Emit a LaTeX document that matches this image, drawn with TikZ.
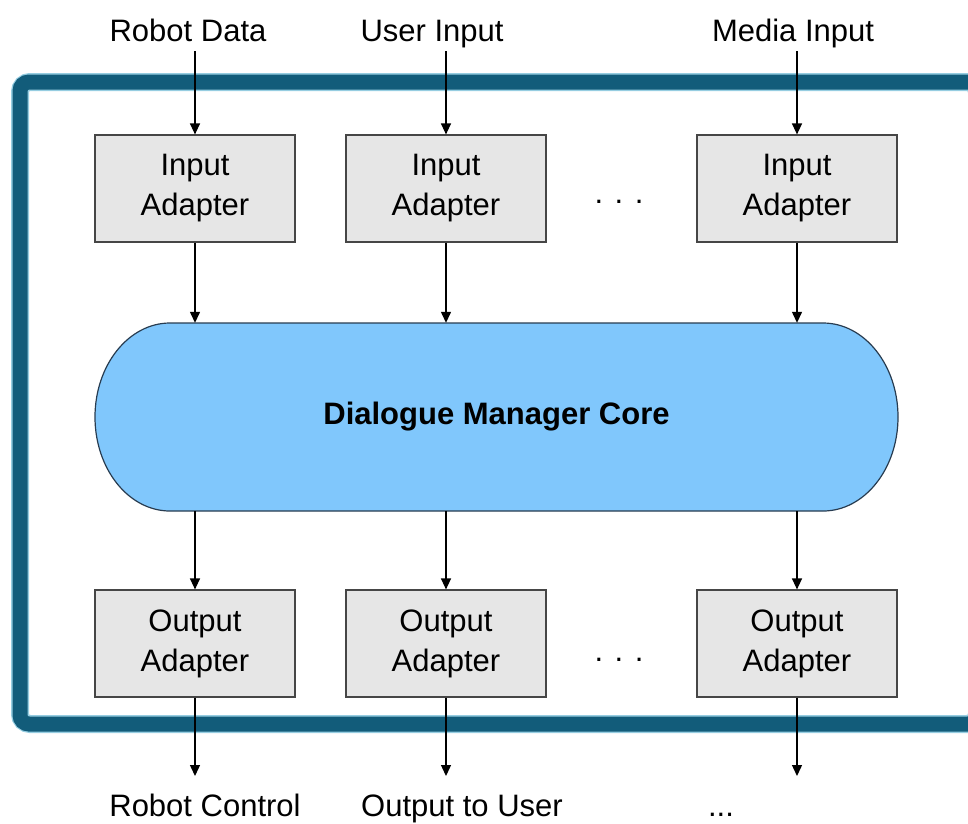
\documentclass[tikz,border=0pt]{standalone}
\usepackage{fontspec}
\setmainfont{Liberation Sans}
\usetikzlibrary{arrows.meta}

\definecolor{framecol}{RGB}{18,92,122}
\definecolor{frameedge}{RGB}{150,205,225}
\definecolor{boxfill}{RGB}{230,230,230}
\definecolor{boxline}{RGB}{70,70,70}
\definecolor{corefill}{RGB}{128,199,252}
\definecolor{coreline}{RGB}{40,60,80}

\tikzset{
  bigfont/.style={font=\fontsize{31}{40}\selectfont},
  adapter/.style={draw=boxline, line width=1.2pt, fill=boxfill,
    minimum width=200pt, minimum height=107pt, inner sep=0pt,
    align=center, bigfont},
  extlabel/.style={anchor=base, inner sep=0pt, bigfont},
  flow/.style={draw=black, line width=1.3pt,
    -{Triangle[width=10pt,length=11pt]}},
}

\begin{document}
\begin{tikzpicture}[x=1pt, y=-1pt]
  \useasboundingbox (0,0) rectangle (968,823);
  \clip (0,0) rectangle (968,823);

  % enclosing frame
  \draw[frameedge, line width=18pt, rounded corners=10pt] (20,82) rectangle (977,724);
  \draw[framecol, line width=15pt, rounded corners=9pt] (20,82) rectangle (977,724);

  % input adapters
  \node[adapter] (in1) at (195,188.5) {Input\\Adapter};
  \node[adapter] (in2) at (446,188.5) {Input\\Adapter};
  \node[adapter] (in3) at (797,188.5) {Input\\Adapter};
  \node[anchor=base, inner sep=0pt, bigfont] (indots) at (619,203) {. . .};

  % output adapters
  \node[adapter] (out1) at (195,643.5) {Output\\Adapter};
  \node[adapter] (out2) at (446,643.5) {Output\\Adapter};
  \node[adapter] (out3) at (797,643.5) {Output\\Adapter};
  \node[anchor=base, inner sep=0pt, bigfont] (outdots) at (619,661) {. . .};

  % dialogue manager core (stadium with elliptic ends)
  \filldraw[fill=corefill, draw=coreline, line width=1.2pt]
    (170,323) -- (823,323) arc[start angle=90, end angle=-90, x radius=75, y radius=-94]
    -- (170,511) arc[start angle=270, end angle=90, x radius=75, y radius=-94] -- cycle;
  \node[minimum width=803pt, minimum height=188pt, inner sep=0pt,
        font=\fontsize{31}{40}\selectfont\bfseries] (core) at (496.5,417) {Dialogue Manager Core};

  % external inputs
  \node[extlabel] (rdata) at (188,41) {Robot Data};
  \node[extlabel] (uin) at (432,41) {User Input};
  \node[extlabel] (min) at (793,41) {Media Input};
  \coordinate (s1) at (195,51);
  \coordinate (s2) at (446,51);
  \coordinate (s3) at (797,51);

  % external outputs
  \node[extlabel] (rctl) at (205,816) {Robot Control};
  \node[extlabel] (ouser) at (462,816) {Output to User};
  \node[extlabel] (odots) at (721,816) {...};
  \coordinate (e1) at (195,776);
  \coordinate (e2) at (446,776);
  \coordinate (e3) at (797,776);

  % connectors
  \draw[flow] (s1) -- (in1.north);
  \draw[flow] (s2) -- (in2.north);
  \draw[flow] (s3) -- (in3.north);
  \draw[flow] (in1.south) -- (in1.south |- core.north);
  \draw[flow] (in2.south) -- (in2.south |- core.north);
  \draw[flow] (in3.south) -- (in3.south |- core.north);
  \draw[flow] (out1.north |- core.south) -- (out1.north);
  \draw[flow] (out2.north |- core.south) -- (out2.north);
  \draw[flow] (out3.north |- core.south) -- (out3.north);
  \draw[flow] (out1.south) -- (e1);
  \draw[flow] (out2.south) -- (e2);
  \draw[flow] (out3.south) -- (e3);
\end{tikzpicture}
\end{document}
